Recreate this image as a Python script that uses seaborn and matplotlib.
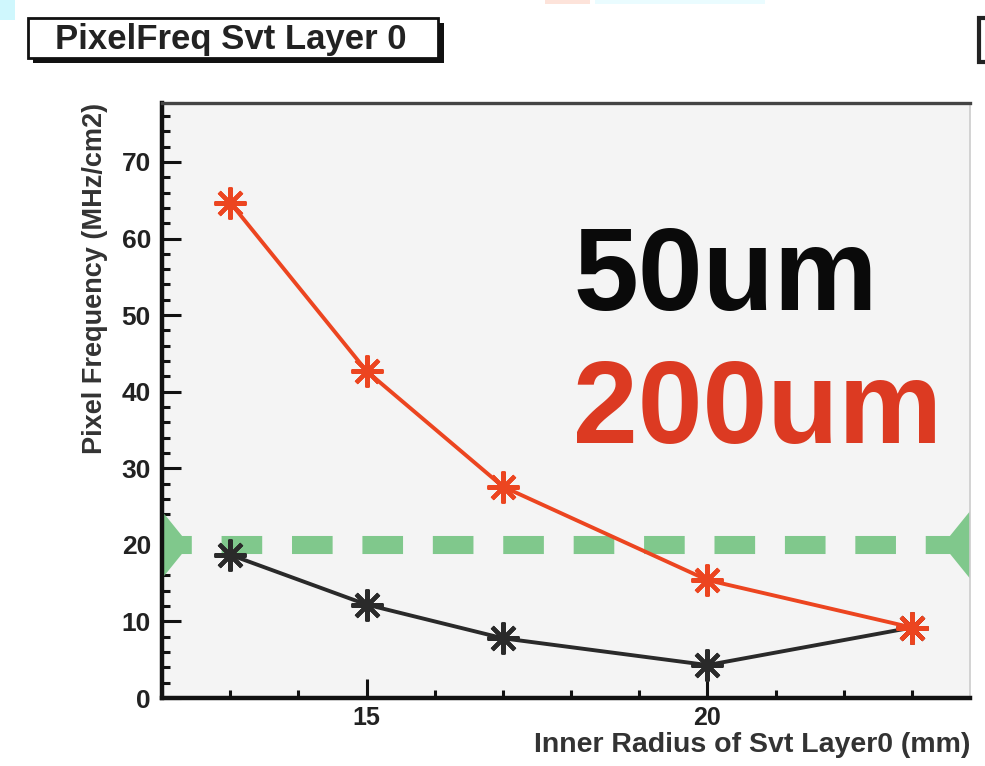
import numpy as np
import pandas as pd
import matplotlib
matplotlib.use("Agg")
import matplotlib.pyplot as plt
from matplotlib.patches import Rectangle
from matplotlib.ticker import MultipleLocator, FixedLocator
import seaborn as sns

# ---- data ----
radius = [13, 15, 17, 20, 23]
freq_50um = [18.7, 12.2, 7.8, 4.3, 9.2]
freq_200um = [64.7, 42.7, 27.6, 15.4, 9.2]
threshold = 20
xlim = (12, 23.85)
ylim = (0, 77.7)
x_major = [15, 20]
y_major = [0, 10, 20, 30, 40, 50, 60, 70]

title = "PixelFreq Svt Layer 0"
xlabel = "Inner Radius of Svt Layer0 (mm)"
ylabel = "Pixel Frequency (MHz/cm2)"
label_50 = "50um"
label_200 = "200um"

RED = "#ec4520"
BLACK = "#2a2a2a"
GREEN = "#80c88c"

sns.set_style("ticks")
plt.rcParams["font.family"] = ["Liberation Sans", "DejaVu Sans"]

df = pd.DataFrame({"r": radius, "f50": freq_50um, "f200": freq_200um})

fig = plt.figure(figsize=(9.85, 7.66), dpi=100)
fig.patch.set_facecolor("white")
ax = fig.add_axes([162/985, 1-698/766, (970-162)/985, (698-103)/766])
ax.set_facecolor("#f4f4f4")

# threshold dashed line
ax.axhline(threshold, color=GREEN, lw=13, linestyle=(0.6, (2.25, 1.65)),
           solid_capstyle="butt", dash_capstyle="butt", zorder=1)
# arrow heads at both ends
tri_h = 4.4
tri_w = 0.4
ax.fill([xlim[0], xlim[0], xlim[0] + tri_w], [threshold - tri_h, threshold + tri_h, threshold],
        color=GREEN, lw=0, zorder=1, clip_on=False)
ax.fill([xlim[1], xlim[1], xlim[1] - tri_w], [threshold - tri_h, threshold + tri_h, threshold],
        color=GREEN, lw=0, zorder=1, clip_on=False)

star = (8, 2, 0)
sns.lineplot(data=df, x="r", y="f50", ax=ax, color=BLACK, lw=2.8, marker=star,
             markersize=23, markeredgewidth=3.0, markeredgecolor=BLACK, zorder=3)
sns.lineplot(data=df, x="r", y="f200", ax=ax, color=RED, lw=2.8, marker=star,
             markersize=23, markeredgewidth=3.0, markeredgecolor=RED, zorder=4)

ax.set_xlim(*xlim)
ax.set_ylim(*ylim)

ax.xaxis.set_major_locator(FixedLocator(x_major))
ax.xaxis.set_minor_locator(MultipleLocator(1))
ax.yaxis.set_major_locator(FixedLocator(y_major))
ax.yaxis.set_minor_locator(MultipleLocator(2))
ax.tick_params(axis="both", which="major", direction="in", length=14, width=2.2,
               color="#111111", top=False, right=False)
ax.tick_params(axis="both", which="minor", direction="in", length=6, width=2.2,
               color="#111111", top=False, right=False)
ax.tick_params(axis="y", which="major", labelsize=19, pad=8)
ax.tick_params(axis="x", which="major", labelsize=18, pad=6)
for lab in ax.get_yticklabels() + ax.get_xticklabels():
    lab.set_fontweight("bold")
    lab.set_color("#222222")

for side, (lw, c) in {"left": (3.2, "#111111"), "bottom": (3.2, "#111111"),
                      "top": (2.4, "#444444"), "right": (1.2, "#cccccc")}.items():
    ax.spines[side].set_visible(True)
    ax.spines[side].set_linewidth(lw)
    ax.spines[side].set_color(c)

ax.set_xlabel(xlabel, fontsize=20.5, fontweight="bold", loc="right", color="#333333", labelpad=1)
ax.set_ylabel(ylabel, fontsize=19.5, fontweight="bold", loc="top", color="#333333", labelpad=10)

# big annotations
ax.text(18.03, 50.7, label_50, fontsize=84, fontweight="bold", color="#0a0a0a",
        ha="left", va="baseline")
ax.text(18.03, 33.3, label_200, fontsize=84, fontweight="bold", color="#dc3a22",
        ha="left", va="baseline")

# title box with shadow
fig.patches.append(Rectangle((33/985, 1-63/766), (444-33)/985, (63-23)/766,
                             transform=fig.transFigure, facecolor="#111111",
                             edgecolor="none", zorder=1))
fig.patches.append(Rectangle((28/985, 1-58/766), (438-28)/985, (58-18)/766,
                             transform=fig.transFigure, facecolor="white",
                             edgecolor="#111111", lw=2, zorder=2))
fig.text(231/985, 1-39/766, title, fontsize=25, fontweight="bold", color="#222222",
         ha="center", va="center", zorder=3)

# partial box at right edge and stray colour fragments at the top
fig.patches.append(Rectangle((979/985, 1-62/766), 10/985, (62-18)/766,
                             transform=fig.transFigure, facecolor="white",
                             edgecolor="#222222", lw=3, zorder=2))
fig.patches.append(Rectangle((0, 1-20/766), 15/985, 20/766, transform=fig.transFigure,
                             facecolor="#cff7fd", edgecolor="none", zorder=1))
fig.patches.append(Rectangle((595/985, 1-4/766), 170/985, 4/766, transform=fig.transFigure,
                             facecolor="#eafcff", edgecolor="none", zorder=1))
fig.patches.append(Rectangle((545/985, 1-4/766), 45/985, 4/766, transform=fig.transFigure,
                             facecolor="#fde3da", edgecolor="none", zorder=1))

fig.savefig("out.png", dpi=100)
